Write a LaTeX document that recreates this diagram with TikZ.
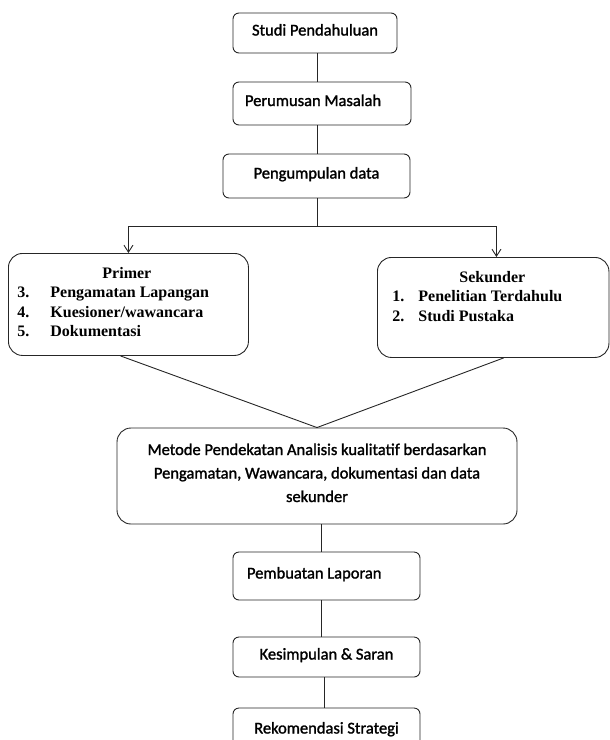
\documentclass[tikz,border=0pt]{standalone}
\usepackage{fontspec}
\setmainfont{Carlito}
\newfontfamily\calfont[FakeBold=1.5]{Carlito}
\newfontfamily\tnrfont{Liberation Serif}
\usetikzlibrary{arrows.meta}
\begin{document}
\begin{tikzpicture}[x=1pt,y=-1pt,
  conn/.style={draw=black!85, line width=0.9pt},
  arr/.style={conn, -{Straight Barb[length=7pt,width=9pt]}},
  box/.style={draw=black!85, line width=0.9pt, rounded corners=6pt, inner sep=0pt,
    text height=8pt, text depth=3pt, font=\calfont\fontsize{16.5}{20}\selectfont},
  listbox/.style={draw=black!85, line width=0.9pt, rounded corners=14pt, anchor=north west,
    inner ysep=0pt, font=\tnrfont\bfseries\fontsize{16}{19.5}\selectfont},
  bigbox/.style={draw=black!85, line width=0.9pt, rounded corners=14pt, inner ysep=0pt,
    inner xsep=0pt, font=\calfont\fontsize{16.5}{23.5}\selectfont}
]
\useasboundingbox (0,0) rectangle (610,740);
\clip (0,0) rectangle (610,740);

\node[box, minimum width=164pt, minimum height=40pt] (b1) at (315,33) {Studi Pendahuluan};
\node[box, inner xsep=12pt, minimum height=43pt] (b2) at (322,103.5) {\makebox[154pt][l]{Perumusan Masalah}};
\node[box, minimum width=187pt, minimum height=44pt] (b3) at (316.5,176) {Pengumpulan data};

\node[listbox, inner xsep=9pt, text height=25pt, text depth=77pt] (primer) at (8,253)
  {\begin{tabular}[t]{@{}p{33pt}@{}p{189pt}@{}}
   \multicolumn{2}{@{}l@{}}{\hspace{85pt}Primer}\\
   3. & Pengamatan Lapangan\\
   4. & Kuesioner/wawancara\\
   5. & Dokumentasi
   \end{tabular}};
\node[listbox, inner xsep=15pt, text height=25pt, text depth=75pt] (sekunder) at (377,257)
  {\begin{tabular}[t]{@{}p{26pt}@{}p{175.5pt}@{}}
   \multicolumn{2}{@{}l@{}}{\hspace{67pt}Sekunder}\\
   1. & Penelitian Terdahulu\\
   2. & Studi Pustaka
   \end{tabular}};

\node[bigbox, minimum width=400pt, text height=27pt, text depth=69pt] (metode) at (317,476)
  {\begin{tabular}[t]{@{}c@{}}
   Metode Pendekatan Analisis kualitatif berdasarkan\\
   Pengamatan, Wawancara, dokumentasi dan data\\
   sekunder
   \end{tabular}};

\node[box, inner xsep=14pt, minimum height=48pt] (pemb) at (326.5,576) {\makebox[159pt][l]{Pembuatan Laporan}};
\node[box, minimum width=187pt, minimum height=40pt] (kes) at (326.5,657) {Kesimpulan \& Saran};
\node[box, minimum width=187pt, minimum height=46pt] (rek) at (326.5,731) {Rekomendasi Strategi};

\draw[conn] ([xshift=2pt]b1.south) -- ([xshift=2pt]b1.south |- b2.north);
\draw[conn] ([xshift=-5pt]b2.south) -- ([xshift=-5pt]b2.south |- b3.north);
\draw[conn] ([xshift=0.5pt]b3.south) -- ++(0,28) coordinate (split);
\draw[arr] (split) -| (primer.north);
\draw[arr] (split) -| ([xshift=3.25pt]sekunder.north);
\draw[conn] ([xshift=-8pt]primer.south) -- (metode.north);
\draw[conn] ([xshift=10.5pt]sekunder.south) -- (metode.north);
\draw[conn] ([xshift=4pt]metode.south) -- ([xshift=4pt]metode.south |- pemb.north);
\draw[conn] ([xshift=-5pt]pemb.south) -- ([xshift=-5pt]pemb.south |- kes.north);
\draw[conn] ([xshift=-2.5pt]kes.south) -- ([xshift=-2.5pt]kes.south |- rek.north);
\end{tikzpicture}
\end{document}
